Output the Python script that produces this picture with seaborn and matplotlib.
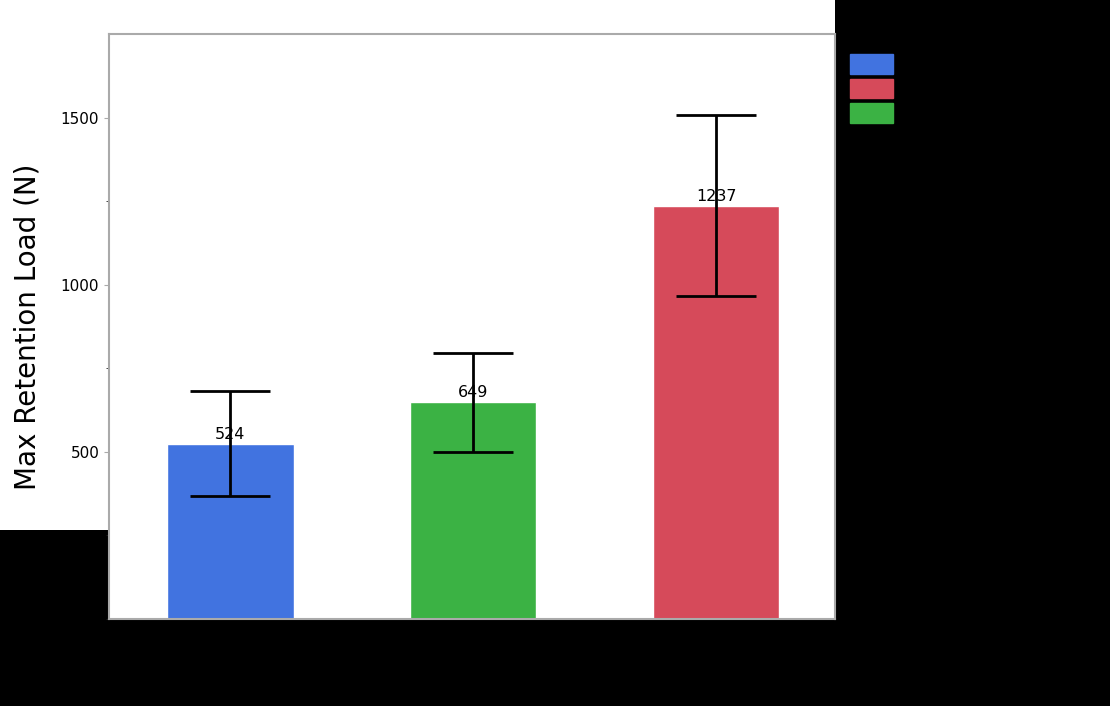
import matplotlib
matplotlib.use('Agg')
import matplotlib.pyplot as plt
import matplotlib.patches as mpatches
import seaborn as sns
import pandas as pd

# === Dados
groups = ['Group A', 'Group B', 'Group C']
means = [524, 649, 1237]
errors = [157, 148, 272]
colors = ['#4173e0', '#3bb244', '#d64a5a']
legend_order = ['Group A', 'Group C', 'Group B']

df = pd.DataFrame({'group': groups, 'load': means})

sns.set_style('ticks')
fig = plt.figure(figsize=(11.1, 7.06), dpi=100, facecolor='black')
fig.patches.append(mpatches.Rectangle((0, 0.2493), 0.7523, 0.7507, transform=fig.transFigure,
                                      facecolor='white', edgecolor='none', zorder=-1))
ax = fig.add_axes([0.0982, 0.1232, 0.6541, 0.8286])
ax.set_facecolor('white')

sns.barplot(data=df, x='group', y='load', hue='group', palette=colors, width=0.52,
            saturation=1, legend=False, ax=ax)
ax.errorbar(range(len(groups)), means, yerr=errors, fmt='none', ecolor='black',
            elinewidth=2, capsize=29, capthick=2)
for i, m in enumerate(means):
    ax.text(i, m + 5, str(m), ha='center', va='bottom', fontsize=11.5, color='black')

ax.set_xlim(-0.5, 2.49)
ax.set_ylim(0, 1750)
ax.set_yticks([500, 1000, 1500])
ax.set_yticks([0, 250, 750, 1250], minor=True)
ax.tick_params(axis='y', labelsize=11, color='#aaaaaa', labelcolor='black')
ax.tick_params(axis='x', colors='black', labelsize=11)
ax.set_xlabel('')
ax.set_ylabel('Max Retention Load (N)', fontsize=20, color='black', labelpad=14)
for s in ax.spines.values():
    s.set_color('#aaaaaa')
    s.set_linewidth(1.5)

handles = [mpatches.Patch(color=colors[groups.index(g)], label=g) for g in legend_order]
fig.legend(handles=handles, loc='upper left', bbox_to_anchor=(0.752, 0.945), frameon=False,
           handlelength=2.6, handleheight=1.45, labelspacing=0.3, labelcolor='black', fontsize=12)

fig.savefig('out.png', dpi=100, facecolor=fig.get_facecolor())
